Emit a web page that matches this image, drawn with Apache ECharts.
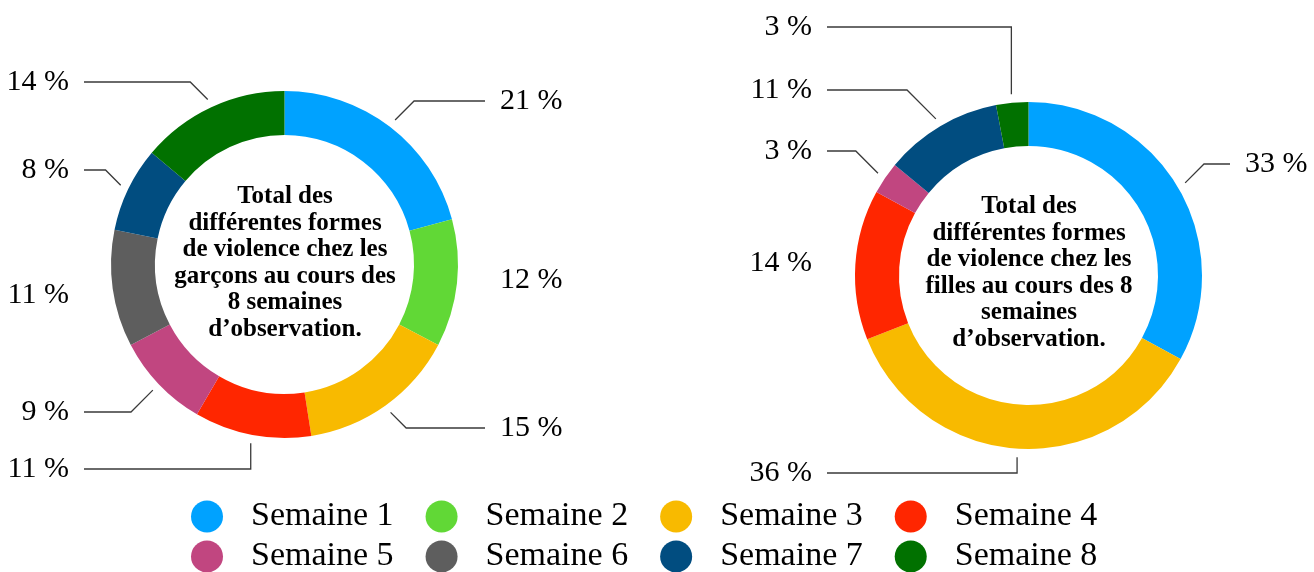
<!DOCTYPE html>
<html>
<head>
<meta charset="utf-8">
<script src="https://cdn.jsdelivr.net/npm/echarts@6/dist/echarts.min.js"></script>
<style>
html,body{margin:0;padding:0;background:#ffffff;}
#chart{width:1314px;height:572px;}
</style>
</head>
<body>
<div id="chart"></div>
<script>
// ---- data ----
const categories = ['Semaine 1', 'Semaine 2', 'Semaine 3', 'Semaine 4', 'Semaine 5', 'Semaine 6', 'Semaine 7', 'Semaine 8'];
const boysValues = [21, 12, 15, 11, 9, 11, 8, 14];
const girlsValues = [33, 0, 36, 14, 3, 0, 11, 3];
const boysTitle = 'Total des\ndifférentes formes\nde violence chez les\ngarçons au cours des\n8 semaines\nd’observation.';
const girlsTitle = 'Total des\ndifférentes formes\nde violence chez les\nfilles au cours des 8\nsemaines\nd’observation.';

// ---- styling / layout ----
const colors = ['#00A2FF', '#61D836', '#F8BA00', '#FF2600', '#C14680', '#5E5E5E', '#014D80', '#017100'];
const FONT = '"Liberation Serif", "Times New Roman", serif';
const OUTER = 173.5, INNER = 129.5, LINE_R = 182, GAP = 15;
// label placement: [side, x, y, hasLine]
const pieLayouts = [
  {
    center: [284.5, 264.5], values: boysValues, title: boysTitle, titlePos: [285, 263],
    labels: [
      ['r', 500, 101, true], ['r', 500, 280, false], ['r', 500, 428, true], ['l', 69, 469, true],
      ['l', 69, 412, true], ['l', 69, 295, false], ['l', 69, 170, true], ['l', 69, 82, true]
    ]
  },
  {
    center: [1028.5, 275.5], values: girlsValues, title: girlsTitle, titlePos: [1029, 273],
    labels: [
      ['r', 1245, 164, true], ['r', 1245, 0, false], ['l', 812, 473, true], ['l', 812, 263, false],
      ['l', 812, 151, true], ['l', 812, 0, false], ['l', 812, 90, true], ['l', 812, 27, true]
    ]
  }
];

function midAngle(values, idx) {
  const total = values.reduce((a, b) => a + b, 0);
  let cum = 0;
  for (let k = 0; k < idx; k++) cum += values[k];
  return (cum + values[idx] / 2) / total * 2 * Math.PI;
}

function labelLayout(params) {
  const cfg = pieLayouts[params.seriesIndex];
  const lab = cfg.labels[params.dataIndex];
  const side = lab[0], lx = lab[1], ly = lab[2];
  const out = { x: lx, y: ly, align: side === 'r' ? 'left' : 'right', verticalAlign: 'middle' };
  if (lab[3]) {
    const a = midAngle(cfg.values, params.dataIndex);
    const sx = cfg.center[0] + LINE_R * Math.sin(a);
    const sy = cfg.center[1] - LINE_R * Math.cos(a);
    const nearVertical = Math.abs(Math.sin(a)) < 0.26;
    let ex;
    if (nearVertical) {
      ex = sx;
    } else {
      ex = sx + (side === 'r' ? 1 : -1) * Math.abs(ly - sy);
    }
    const endX = side === 'r' ? lx - GAP : lx + GAP;
    out.labelLinePoints = [[sx, sy], [ex, ly], [endX, ly]];
  }
  return out;
}

function buildSeries(cfg) {
  return {
    type: 'pie',
    center: cfg.center,
    radius: [INNER, OUTER],
    startAngle: 90,
    clockwise: true,
    avoidLabelOverlap: false,
    animation: false,
    emphasis: { disabled: true },
    label: {
      show: true,
      formatter: '{c} %',
      fontFamily: FONT,
      fontSize: 30,
      color: '#000000'
    },
    labelLine: { show: true, lineStyle: { color: '#3a3a3a', width: 1.3 } },
    labelLayout: labelLayout,
    data: categories.map((name, i) => {
      const item = { name: name, value: cfg.values[i] };
      if (cfg.values[i] === 0) {
        item.label = { show: false };
        item.labelLine = { show: false };
      } else if (!cfg.labels[i][3]) {
        item.labelLine = { show: false };
      }
      return item;
    })
  };
}

const legendCommon = {
  orient: 'horizontal',
  icon: 'circle',
  itemWidth: 32,
  itemHeight: 32,
  itemGap: 32,
  padding: 0,
  selectedMode: false,
  left: 191,
  textStyle: { fontFamily: FONT, fontSize: 34, color: '#000000', lineHeight: 32, padding: [0, 0, 0, 23] }
};

const chart = echarts.init(document.getElementById('chart'), null, { renderer: 'canvas' });
chart.setOption({
  backgroundColor: '#ffffff',
  color: colors,
  animation: false,
  legend: [
    Object.assign({}, legendCommon, { top: 499.5, data: categories.slice(0, 4) }),
    Object.assign({}, legendCommon, { top: 539.5, data: categories.slice(4, 8) })
  ],
  graphic: pieLayouts.map(cfg => ({
    type: 'text',
    x: cfg.titlePos[0],
    y: cfg.titlePos[1],
    silent: true,
    style: {
      text: cfg.title,
      align: 'center',
      verticalAlign: 'middle',
      fontFamily: FONT,
      fontWeight: 'bold',
      fontSize: 25,
      lineHeight: 26.5,
      fill: '#000000'
    }
  })),
  series: pieLayouts.map(buildSeries)
});
</script>
</body>
</html>
